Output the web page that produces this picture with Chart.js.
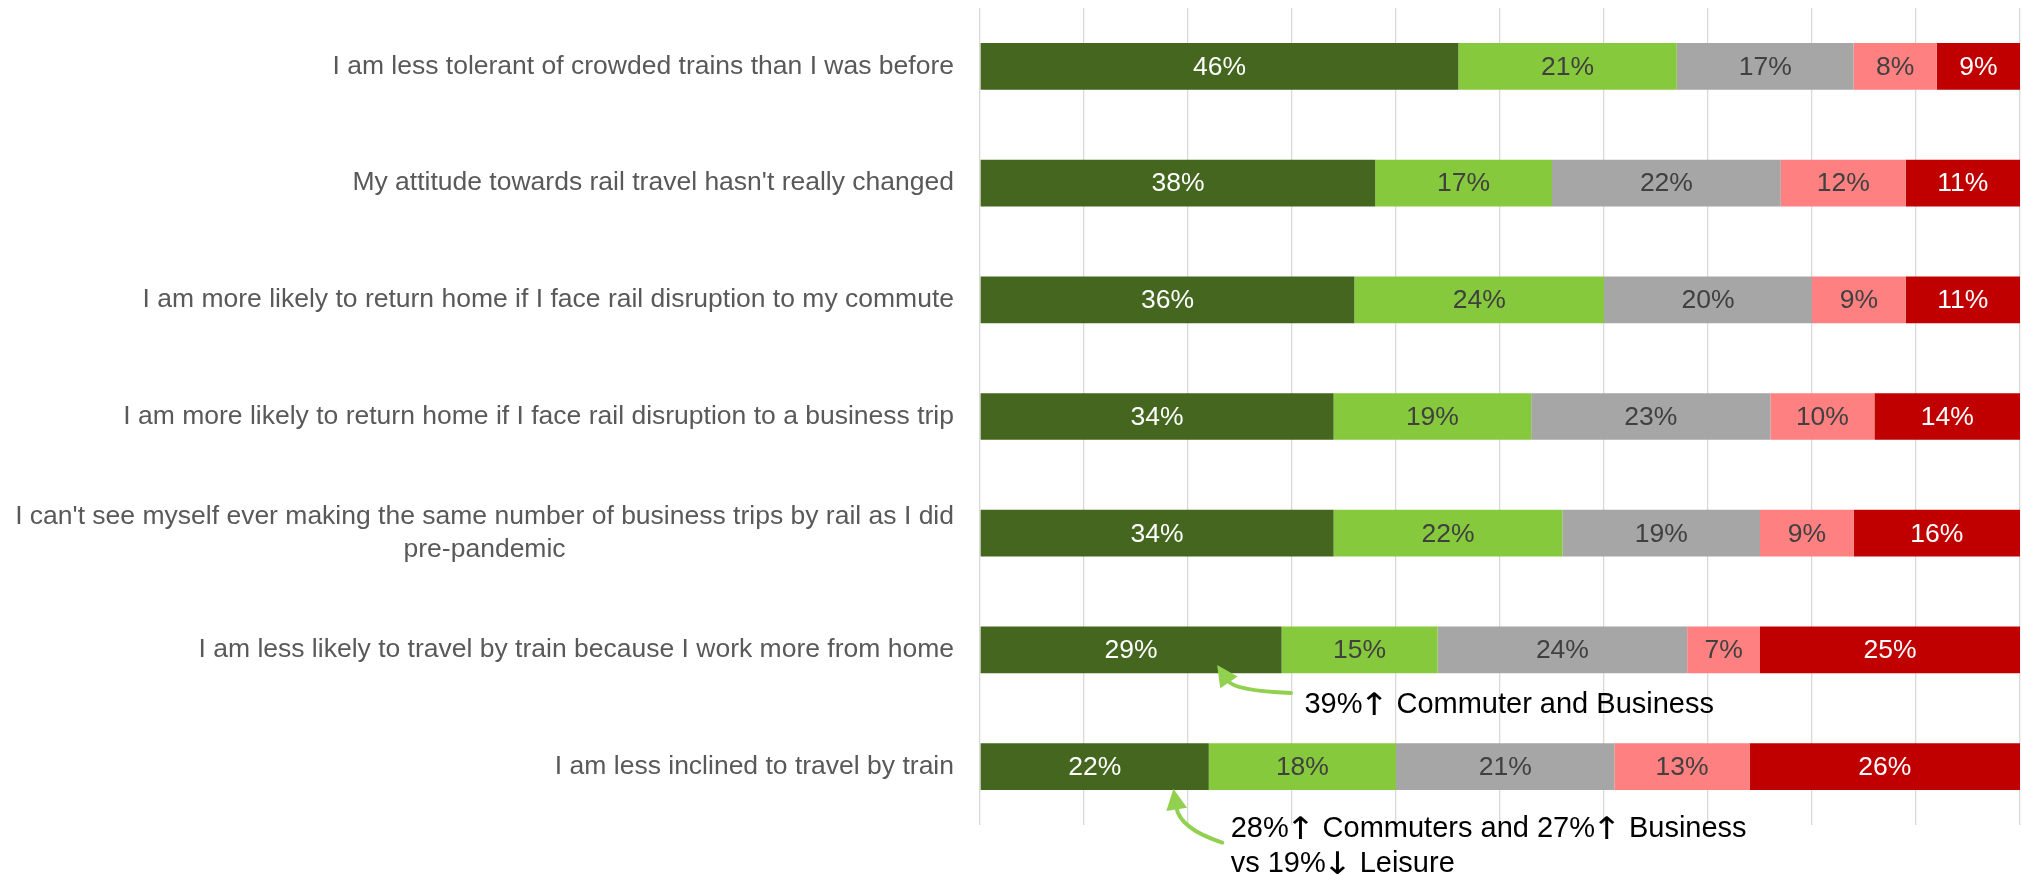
<!DOCTYPE html>
<html>
<head>
<meta charset="utf-8">
<script src="https://cdn.jsdelivr.net/npm/chart.js@4"></script>
<style>
  html, body { margin: 0; padding: 0; background: #ffffff; }
  #wrap { width: 2022px; height: 875px; }
</style>
</head>
<body>
<div id="wrap"><canvas id="chart" width="2022" height="875"></canvas></div>
<script>
// Statements about rail travel after the pandemic
const categories = [
  "I am less tolerant of crowded trains than I was before",
  "My attitude towards rail travel hasn't really changed",
  "I am more likely to return home if I face rail disruption to my commute",
  "I am more likely to return home if I face rail disruption to a business trip",
  ["I can't see myself ever making the same number of business trips by rail as I did", "pre-pandemic"],
  "I am less likely to travel by train because I work more from home",
  "I am less inclined to travel by train"
];

// Share of respondents (%) per answer band
const stronglyAgree    = [46, 38, 36, 34, 34, 29, 22];
const agree            = [21, 17, 24, 19, 22, 15, 18];
const neutral          = [17, 22, 20, 23, 19, 24, 21];
const disagree         = [8, 12, 9, 10, 9, 7, 13];
const stronglyDisagree = [9, 11, 11, 14, 16, 25, 26];

const seriesNames  = ["Strongly agree", "Agree", "Neither", "Disagree", "Strongly disagree"];
const seriesColors = ["#44661e", "#86c93c", "#a6a6a6", "#ff8080", "#c00000"];
const labelColors  = ["#ffffff", "#404040", "#404040", "#404040", "#ffffff"];

// Callout notes under the two bottom bars
const noteOne = ["39%\u2191 Commuter and Business"];
const noteTwo = ["28%\u2191 Commuters and 27%\u2191 Business", "vs 19%\u2193 Leisure"];

const FONT = '"Liberation Sans", Arial, Helvetica, sans-serif';
const ARROW_FONT = '"DejaVu Sans", sans-serif';

// Category labels: right-aligned block, each line centred within it
const categoryLabels = {
  id: 'categoryLabels',
  afterDraw(chart) {
    const ctx = chart.ctx;
    const y = chart.scales.y;
    const right = chart.chartArea.left - 26;
    ctx.save();
    ctx.font = '26.5px ' + FONT;
    ctx.fillStyle = '#595959';
    ctx.textBaseline = 'middle';
    ctx.textAlign = 'center';
    const lineH = 33;
    categories.forEach((cat, i) => {
      const lines = Array.isArray(cat) ? cat : [cat];
      const w = Math.max(...lines.map(l => ctx.measureText(l).width));
      const cx = right - w / 2;
      const cy = y.getPixelForValue(i);
      const top = cy - (lines.length - 1) * lineH / 2;
      lines.forEach((l, k) => ctx.fillText(l, cx, top + k * lineH));
    });
    ctx.restore();
  }
};

// Value labels centred in each visible bar segment
const valueLabels = {
  id: 'valueLabels',
  afterDatasetsDraw(chart) {
    const ctx = chart.ctx;
    const area = chart.chartArea;
    ctx.save();
    ctx.font = '26.5px ' + FONT;
    ctx.textAlign = 'center';
    ctx.textBaseline = 'middle';
    chart.data.datasets.forEach((ds, di) => {
      const meta = chart.getDatasetMeta(di);
      meta.data.forEach((bar, i) => {
        const a = Math.max(area.left, Math.min(bar.base, bar.x));
        const b = Math.min(area.right, Math.max(bar.base, bar.x));
        if (b <= a) return;
        ctx.fillStyle = labelColors[di];
        ctx.fillText(ds.data[i] + '%', (a + b) / 2, bar.y + 1);
      });
    });
    ctx.restore();
  }
};

// Writes a line, setting the arrow glyphs larger and a little wider
function drawNote(ctx, text, x, y) {
  let cx = x;
  for (const part of text.split(/([\u2191\u2193])/)) {
    if (!part) continue;
    const isArrow = part === '\u2191' || part === '\u2193';
    if (isArrow) {
      ctx.font = '31px ' + ARROW_FONT;
      const w = ctx.measureText(part).width;
      ctx.save();
      ctx.translate(cx - 3, y + 2);
      ctx.scale(1.15, 1);
      ctx.fillText(part, 0, 0);
      ctx.restore();
      cx += w * 1.15 - 4;
    } else {
      ctx.font = '29px ' + FONT;
      ctx.fillText(part, cx, y);
      cx += ctx.measureText(part).width;
    }
  }
}

// Curved pointer with a filled head
function drawPointer(ctx, p0, c, tip) {
  const ang = Math.atan2(tip.y - c.y, tip.x - c.x);
  const len = 21, half = 10.5;
  const bx = tip.x - Math.cos(ang) * len;
  const by = tip.y - Math.sin(ang) * len;
  ctx.beginPath();
  ctx.moveTo(p0.x, p0.y);
  ctx.quadraticCurveTo(c.x, c.y, bx + Math.cos(ang) * 2, by + Math.sin(ang) * 2);
  ctx.stroke();
  ctx.beginPath();
  ctx.moveTo(tip.x, tip.y);
  ctx.lineTo(bx + Math.cos(ang + Math.PI / 2) * half, by + Math.sin(ang + Math.PI / 2) * half);
  ctx.lineTo(bx - Math.cos(ang + Math.PI / 2) * half, by - Math.sin(ang + Math.PI / 2) * half);
  ctx.closePath();
  ctx.fill();
}

const callouts = {
  id: 'callouts',
  afterDraw(chart) {
    const ctx = chart.ctx;
    const x = chart.scales.x, y = chart.scales.y;
    const c5 = y.getPixelForValue(5), c6 = y.getPixelForValue(6);
    ctx.save();
    ctx.strokeStyle = '#92d050';
    ctx.fillStyle = '#92d050';
    ctx.lineWidth = 4;
    ctx.lineCap = 'round';
    drawPointer(ctx,
      { x: x.getPixelForValue(29.9), y: c5 + 43 },
      { x: x.getPixelForValue(24.5), y: c5 + 41 },
      { x: x.getPixelForValue(22.8), y: c5 + 15 });
    drawPointer(ctx,
      { x: x.getPixelForValue(23.3), y: c6 + 76 },
      { x: x.getPixelForValue(19.2), y: c6 + 62 },
      { x: x.getPixelForValue(18.6), y: c6 + 22 });
    ctx.fillStyle = '#000000';
    ctx.textAlign = 'left';
    ctx.textBaseline = 'alphabetic';
    drawNote(ctx, noteOne[0], x.getPixelForValue(31.2), c5 + 63);
    noteTwo.forEach((l, k) => drawNote(ctx, l, x.getPixelForValue(24.1), c6 + 70 + k * 35));
    ctx.restore();
  }
};

const seriesData = [stronglyAgree, agree, neutral, disagree, stronglyDisagree];

new Chart(document.getElementById('chart'), {
  type: 'bar',
  data: {
    labels: categories,
    datasets: seriesData.map((d, i) => ({
      label: seriesNames[i],
      data: d,
      backgroundColor: seriesColors[i],
      borderWidth: 0,
      categoryPercentage: 1,
      barPercentage: 0.4
    }))
  },
  options: {
    indexAxis: 'y',
    responsive: false,
    animation: false,
    devicePixelRatio: 1,
    layout: { padding: { left: 980, right: 2, top: 8, bottom: 50 } },
    plugins: {
      legend: { display: false },
      tooltip: { enabled: false }
    },
    scales: {
      x: {
        stacked: true,
        min: 0,
        max: 100,
        ticks: { display: false, stepSize: 10 },
        grid: { color: '#d9d9d9', lineWidth: 1.3, drawTicks: false, tickLength: 0 },
        border: { display: false }
      },
      y: {
        stacked: true,
        display: false
      }
    }
  },
  plugins: [categoryLabels, valueLabels, callouts]
});
</script>
</body>
</html>
